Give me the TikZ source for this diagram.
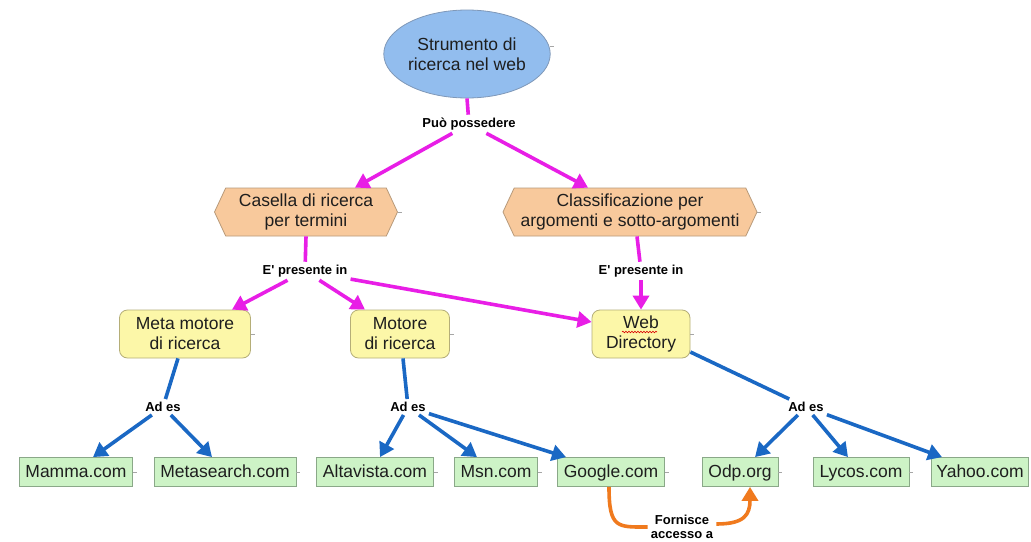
\documentclass[tikz,border=0pt]{standalone}
\usepackage{fontspec}
\setmainfont{Liberation Sans}
\newfontfamily\lblfam{Liberation Sans}
\usetikzlibrary{shapes.geometric,shapes.symbols,arrows.meta,calc,decorations.pathmorphing}
\definecolor{ellFill}{HTML}{92BDEE}
\definecolor{ellLine}{HTML}{7F98B8}
\definecolor{hexFill}{HTML}{F8C99C}
\definecolor{hexLine}{HTML}{B89A7A}
\definecolor{yelFill}{HTML}{FCF7A8}
\definecolor{yelLine}{HTML}{B5AE78}
\definecolor{grnFill}{HTML}{CDF3C6}
\definecolor{grnLine}{HTML}{8AA888}
\definecolor{magc}{HTML}{E81EE6}
\definecolor{bluc}{HTML}{1A68C4}
\definecolor{orac}{HTML}{F07A1E}
\definecolor{txt}{HTML}{1E1E1E}
\newcommand\nfont{\fontsize{17.5}{20}\selectfont}
\newcommand\lfont{\lblfam\fontsize{13}{14}\selectfont\bfseries}
\begin{document}
\begin{tikzpicture}[x=1pt,y=-1pt,
  concept/.style={font=\nfont, text=txt, align=center, inner sep=0pt},
  ellnode/.style={concept, ellipse, draw=ellLine, fill=ellFill, line width=0.8pt, minimum width=154pt, minimum height=88pt},
  hexnode/.style={concept, signal, signal to=east and west, signal pointer angle=130, draw=hexLine, fill=hexFill, line width=0.8pt, minimum height=48pt},
  yelnode/.style={concept, rectangle, rounded corners=8pt, draw=yelLine, fill=yelFill, line width=0.8pt, minimum height=48pt},
  grnnode/.style={concept, rectangle, draw=grnLine, fill=grnFill, line width=0.8pt, minimum height=29pt, text height=14pt, text depth=3pt},
  lbl/.style={font=\lfont, text=black, align=center, inner sep=3pt},
  mag/.style={draw=magc, line width=3.6pt},
  magA/.style={mag, -{Triangle[length=14pt,width=16pt]}},
  blu/.style={draw=bluc, line width=3.6pt},
  bluA/.style={blu, -{Triangle[length=14pt,width=16pt]}},
  oraA/.style={draw=orac, line width=3.6pt, -{Triangle[length=14pt,width=16pt]}},
  tick/.style={draw=gray!70, line width=0.6pt}
]
\useasboundingbox (0,0) rectangle (1031,541);
\fill[white] (0,0) rectangle (1031,541);

% concepts
\node[ellnode] (root) at (467,54) {Strumento di\\ricerca nel web};
\node[hexnode, minimum width=183pt] (cas) at (306,212) {Casella di ricerca\\per termini};
\node[hexnode, minimum width=254pt] (cla) at (630,212) {Classificazione per\\argomenti e sotto-argomenti};
\node[yelnode, minimum width=131pt] (meta) at (185,334) {Meta motore\\di ricerca};
\node[yelnode, minimum width=99pt] (mot) at (400,334) {Motore\\di ricerca};
\node[yelnode, minimum width=98pt] (wd) at (641,334) {Web\\Directory};
\node[grnnode, minimum width=113pt] (mamma) at (76,472) {Mamma.com};
\node[grnnode, minimum width=142pt] (metas) at (225,472) {Metasearch.com};
\node[grnnode, minimum width=117pt] (alta) at (375,472) {Altavista.com};
\node[grnnode, minimum width=83pt] (msn) at (496,472) {Msn.com};
\node[grnnode, minimum width=107pt] (goog) at (611,472) {Google.com};
\node[grnnode, minimum width=76pt] (odp) at (740,472) {Odp.org};
\node[grnnode, minimum width=96pt] (lyc) at (861,472) {Lycos.com};
\node[grnnode, minimum width=97pt] (yah) at (980,472) {Yahoo.com};

% linking phrases
\node[lbl] (pp) at (469,124) {Può possedere};
\node[lbl] (ep1) at (305,271) {E' presente in};
\node[lbl] (ep2) at (641,271) {E' presente in};
\node[lbl] (ad1) at (163,407) {Ad es};
\node[lbl] (ad2) at (408,407) {Ad es};
\node[lbl] (ad3) at (806,407) {Ad es};
\node[lbl] (fa) at (682,527) {Fornisce\\accesso a};

% spell-check squiggle
\draw[red!85!black, line width=0.6pt, decorate, decoration={snake, amplitude=0.8pt, segment length=3pt}]
  ($(wd.center)+(-19,-2)$) -- ($(wd.center)+(16,-2)$);

% small side ticks
\foreach \n in {cas,cla,meta,mot,wd,mamma,metas,alta,msn,goog,odp,lyc}
  \draw[tick] (\n.east) -- +(4,0);
\draw[tick] ($(root.east)+(-1,-8)$) -- +(4,0);

% magenta links
\draw[mag] (root.south) -- (pp);
\draw[magA] (pp) -- ($(cas.north)+(49,0)$);
\draw[magA] (pp) -- ($(cla.north)+(-42,0)$);
\draw[mag] (cas.south) -- (ep1);
\draw[magA] (ep1) -- ($(meta.north)+(47,0)$);
\draw[magA] (ep1) -- ($(mot.north)+(-35,0)$);
\draw[magA] (ep1) -- ($(wd.west)+(0,-12)$);
\draw[mag] ($(cla.south)+(7,0)$) -- (ep2);
\draw[magA] (ep2) -- (wd.north);

% blue links
\draw[blu] ($(meta.south)+(-7,0)$) -- (ad1);
\draw[bluA] (ad1) -- ($(mamma.north)+(17,0)$);
\draw[bluA] (ad1) -- ($(metas.north)+(-13,0)$);
\draw[blu] ($(mot.south)+(3,0)$) -- (ad2);
\draw[bluA] (ad2) -- ($(alta.north)+(5,0)$);
\draw[bluA] (ad2) -- ($(msn.north)+(-19,0)$);
\draw[bluA] (ad2) -- ($(goog.north)+(-45,0)$);
\draw[blu] ($(wd.east)+(0,18)$) -- (ad3);
\draw[bluA] (ad3) -- ($(odp.north)+(15,0)$);
\draw[bluA] (ad3) -- ($(lyc.north)+(-13,0)$);
\draw[bluA] (ad3) -- ($(yah.north)+(-38,0)$);

% orange link
\draw[draw=orac, line width=3.6pt] ($(goog.south)+(-2,0)$) .. controls +(0,42) and +(-30,0) .. (fa.west);
\draw[oraA] ($(fa.east)+(0,-3)$) .. controls +(28,0) and +(0,28) .. ($(odp.south)+(10,0)$);
\end{tikzpicture}
\end{document}
